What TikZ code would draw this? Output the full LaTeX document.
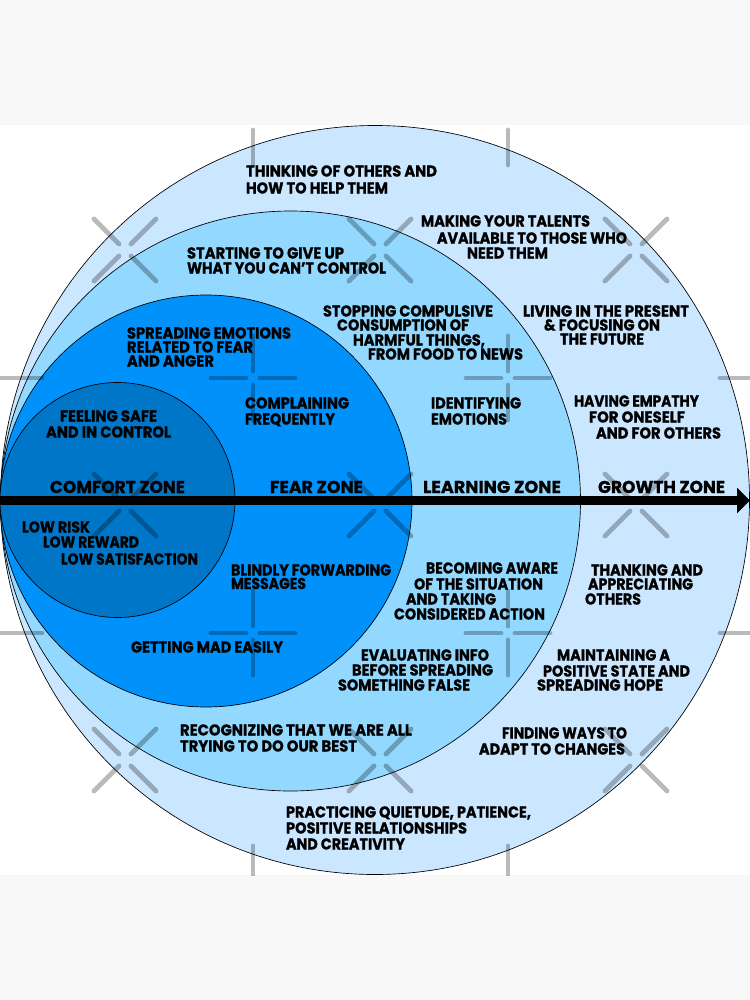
\documentclass[tikz,border=0pt]{standalone}
\usepackage{fontspec}
\usepackage{graphicx}
\usetikzlibrary{arrows.meta}
\newfontfamily\lblfont{Poppins}[BoldFeatures={FakeBold=0.9}]
\definecolor{bandgray}{HTML}{F8F8F8}
\definecolor{growthblue}{HTML}{CBE7FF}
\definecolor{learnblue}{HTML}{92D8FF}
\definecolor{fearblue}{HTML}{0091FB}
\definecolor{comfortblue}{HTML}{0076C8}
\newdimen\lblw
\newcommand{\lbl}[5]{\lblw=\dimexpr 0.75pt*(#3-#2)\relax
  \node[lblnode] (#1) at (#2,#4+5.5) {\resizebox{\lblw}{\height}{\lblfont\bfseries\fontsize{11.8}{12}\selectfont #5}};}
\newcommand{\zlbl}[5]{\lblw=\dimexpr 0.75pt*(#3-#2)\relax
  \node[lblnode] (#1) at (#2,#4+6) {\resizebox{\lblw}{\height}{\lblfont\bfseries\fontsize{12.9}{13}\selectfont #5}};}
\tikzset{
  lblnode/.style={anchor=base west,inner sep=0pt,outer sep=0pt,text=black},
  zone/.style={draw=black,line width=0.5pt},
  wmark/.style={draw=black,opacity=0.27,line width=3.6pt,line cap=round}
}
\begin{document}
\begin{tikzpicture}[x=0.75pt,y=-0.75pt]
\useasboundingbox (0,0) rectangle (750,1000);
\fill[bandgray] (0,0) rectangle (750,1000);
\fill[white] (0,125) rectangle (750,875);
% zones
\path[zone,fill=growthblue] (375,500) circle[radius=0.75*374.5pt];
\path[zone,fill=learnblue] (290.5,501) circle[radius=0.75*290pt];
\path[zone,fill=fearblue] (206,501) circle[radius=0.75*206pt];
\path[zone,fill=comfortblue] (117.5,500) circle[radius=0.75*117.5pt];
% arrow
\coordinate (arrowstart) at (0,500.5);
\coordinate (arrowtip) at (750,500.5);
\draw[line width=6.75pt,-{Triangle[length=9.75pt,width=18.75pt]}] (arrowstart) -- (arrowtip);
% labels
\lbl{a1}{246}{437}{171}{THINKING OF OTHERS AND}
\lbl{a2}{246}{388}{188}{HOW TO HELP THEM}
\lbl{b1}{421}{590}{221}{MAKING YOUR TALENTS}
\lbl{b2}{437}{627}{238}{AVAILABLE TO THOSE WHO}
\lbl{b3}{467}{548}{253}{NEED THEM}
\lbl{c1}{187}{344}{253}{STARTING TO GIVE UP}
\lbl{c2}{187}{386}{268}{WHAT YOU CAN’T CONTROL}
\lbl{d1}{323}{493}{311}{STOPPING COMPULSIVE}
\lbl{d2}{337}{469}{325}{CONSUMPTION OF}
\lbl{d3}{353}{485}{340}{HARMFUL THINGS,}
\lbl{d4}{368}{523}{354}{FROM FOOD TO NEWS}
\lbl{e1}{523}{689}{311}{LIVING IN THE PRESENT}
\lbl{e2}{544}{660}{325}{\& FOCUSING ON}
\lbl{e3}{560}{644}{339}{THE FUTURE}
\lbl{f1}{127}{291}{333}{SPREADING EMOTIONS}
\lbl{f2}{127}{253}{347}{RELATED TO FEAR}
\lbl{f3}{127}{214}{361}{AND ANGER}
\lbl{g1}{245}{349}{403}{COMPLAINING}
\lbl{g2}{245}{335}{419}{FREQUENTLY}
\lbl{h1}{431}{521}{403}{IDENTIFYING}
\lbl{h2}{431}{507}{419}{EMOTIONS}
\lbl{i1}{574}{699}{401}{HAVING EMPATHY}
\lbl{i2}{589}{685}{417}{FOR ONESELF}
\lbl{i3}{596}{721}{433}{AND FOR OTHERS}
\lbl{j1}{60}{157}{416}{FEELING SAFE}
\lbl{j2}{46}{171}{432}{AND IN CONTROL}
\zlbl{z1}{50}{185}{487}{COMFORT ZONE}
\zlbl{z2}{270}{363}{487}{FEAR ZONE}
\zlbl{z3}{423}{561}{487}{LEARNING ZONE}
\zlbl{z4}{598}{725}{487}{GROWTH ZONE}
\lbl{k1}{22}{90}{527}{LOW RISK}
\lbl{k2}{43}{139}{542}{LOW REWARD}
\lbl{k3}{61}{198}{559}{LOW SATISFACTION}
\lbl{l1}{231}{391}{570}{BLINDLY FORWARDING}
\lbl{l2}{231}{306}{583.5}{MESSAGES}
\lbl{m1}{131}{283}{647}{GETTING MAD EASILY}
\lbl{n1}{426}{558}{568}{BECOMING AWARE}
\lbl{n2}{414}{543}{584}{OF THE SITUATION}
\lbl{n3}{406}{496}{599}{AND TAKING}
\lbl{n4}{394}{545}{614}{CONSIDERED ACTION}
\lbl{o1}{361}{489}{655}{EVALUATING INFO}
\lbl{o2}{352}{493}{670}{BEFORE SPREADING}
\lbl{o3}{338}{470}{685}{SOMETHING FALSE}
\lbl{p1}{591}{703}{570}{THANKING AND}
\lbl{p2}{588}{693}{584}{APPRECIATING}
\lbl{p3}{585}{641}{599}{OTHERS}
\lbl{q1}{557}{670}{655}{MAINTAINING A}
\lbl{q2}{543}{690}{671}{POSITIVE STATE AND}
\lbl{q3}{537}{663}{685}{SPREADING HOPE}
\lbl{r1}{502}{627}{733}{FINDING WAYS TO}
\lbl{r2}{479}{625}{749}{ADAPT TO CHANGES}
\lbl{s1}{180}{412}{730}{RECOGNIZING THAT WE ARE ALL}
\lbl{s2}{180}{357}{746}{TRYING TO DO OUR BEST}
\lbl{t1}{286}{531}{812}{PRACTICING QUIETUDE, PATIENCE,}
\lbl{t2}{286}{467}{828}{POSITIVE RELATIONSHIPS}
\lbl{t3}{286}{405}{844}{AND CREATIVITY}
% overlay crosses
\begin{scope}
\clip (0,125) rectangle (750,875);
\foreach \cx/\cy in {253/123,508/123,253/378,508/378,253/633,508/633,253/888,508/888}{
  \draw[wmark] (\cx-42,\cy) -- (\cx-7,\cy);
  \draw[wmark] (\cx+7,\cy) -- (\cx+42,\cy);
  \draw[wmark] (\cx,\cy-42) -- (\cx,\cy-7);
  \draw[wmark] (\cx,\cy+7) -- (\cx,\cy+42);
}
\foreach \cy in {378,633}{
  \draw[wmark] (-10,\cy) -- (42,\cy);
  \draw[wmark] (720,\cy) -- (760,\cy);
}
\foreach \cx/\cy in {125/250,380/250,636/250,125/505,380/505,636/505,125/760,380/760,636/760}{
  \draw[wmark] (\cx-31,\cy-31) -- (\cx-6,\cy-6);
  \draw[wmark] (\cx+31,\cy-31) -- (\cx+6,\cy-6);
  \draw[wmark] (\cx-31,\cy+31) -- (\cx-6,\cy+6);
  \draw[wmark] (\cx+31,\cy+31) -- (\cx+6,\cy+6);
}
\end{scope}
\end{tikzpicture}
\end{document}
